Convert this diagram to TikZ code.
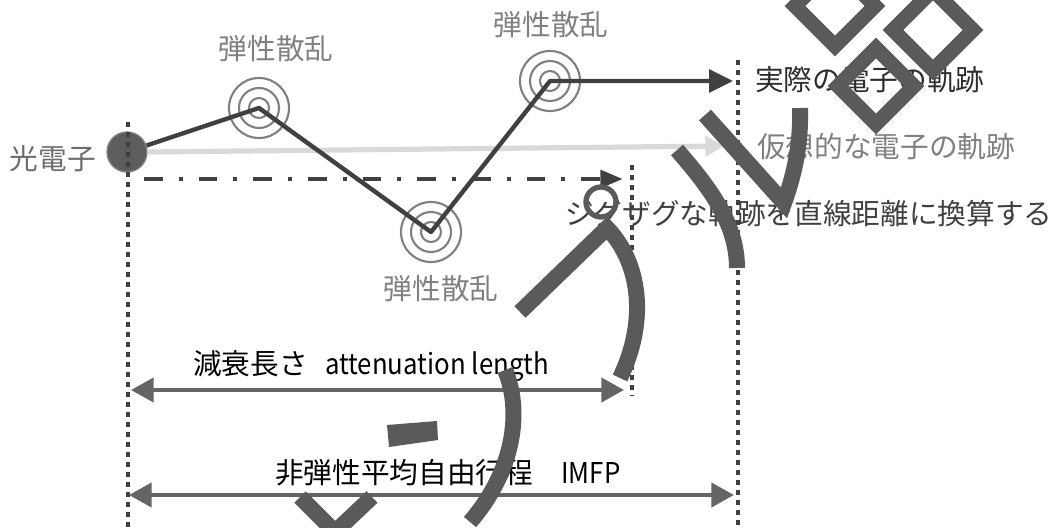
\documentclass[tikz,border=0pt]{standalone}
\usepackage{fontspec}
\setmainfont{Noto Sans CJK JP}
\usetikzlibrary{arrows.meta}
\definecolor{dk}{HTML}{404040}
\definecolor{md}{HTML}{656565}
\definecolor{lt}{HTML}{D9D9D9}
\definecolor{gy}{HTML}{808080}
\definecolor{wm}{HTML}{5A5A5A}
\tikzset{
  lbl/.style={inner sep=0pt, font=\fontsize{21.5}{25}\selectfont},
  dotline/.style={dk, line width=3.4pt, dash pattern=on 3.4pt off 4.1pt},
  traj/.style={dk, line width=3.3pt, line join=round},
  dimarrow/.style={md, line width=3.3pt, {Triangle[length=17pt,width=18pt]}-{Triangle[length=17pt,width=18pt]}},
  ring/.style={gy, line width=1.6pt},
  wmark/.style={wm, line width=12pt},
}
\begin{document}
\begin{tikzpicture}[x=0.75pt,y=-0.75pt]
\useasboundingbox (0,0) rectangle (1054,528);
% photoelectron
\node[circle, fill=dk!85, draw=gy, line width=1pt, minimum size=30pt, inner sep=0pt] (e) at (127,152) {};
\node[lbl, text=gy!85!black] (eLbl) at (53,159) {光電子};
% scattering points
\coordinate (p1) at (259,108);
\coordinate (p2) at (431,232);
\coordinate (p3) at (550,81);
\foreach \p in {p1,p2,p3}{
  \draw[ring] (\p) circle (10);
  \draw[ring] (\p) circle (20);
  \draw[ring] (\p) circle (30);
}
\node[lbl, text=gy] (s1) at (276,49) {弾性散乱};
\node[lbl, text=gy] (s3) at (551,25) {弾性散乱};
\node[lbl, text=gy] (s2) at (441,289) {弾性散乱};
% dotted verticals
\coordinate (lt0) at (128,122); \coordinate (lt1) at (128,530);
\coordinate (md0) at (632,165); \coordinate (md1) at (632,396);
\coordinate (rt0) at (738,60);  \coordinate (rt1) at (738,530);
\draw[dotline] (lt0) -- (lt1);
\draw[dotline] (md0) -- (md1);
\draw[dotline] (rt0) -- (rt1);
% virtual trajectory
\coordinate (vend) at (724,146);
\draw[lt, line width=3.9pt, -{Triangle[length=14pt,width=15pt]}] (e.east) -- (vend);
% real trajectory
\coordinate (tend) at (733,81);
\draw[traj, -{Triangle[length=18pt,width=17pt]}] (e) -- (p1) -- (p2) -- (p3) -- (tend);
% dash-dot
\coordinate (ds) at (144,179);
\coordinate (de) at (623,179);
\draw[dk, line width=3.7pt, dash pattern=on 14pt off 12pt on 3pt off 12pt, -{Triangle[length=17pt,width=13pt]}] (ds) -- (de);
% labels right
\node[lbl, text=dk!70!black, anchor=west] (real) at (755,80) {実際の電子の軌跡};
\node[lbl, text=gy, anchor=west] (virt) at (757,147) {仮想的な電子の軌跡};
\node[lbl, text=dk, anchor=west] (zig) at (565,214) {ジグザグな軌跡を直線距離に換算する};
% dimension arrows
\coordinate (a0) at (131,390); \coordinate (a1) at (624,390);
\coordinate (b0) at (129,495); \coordinate (b1) at (734,495);
\draw[dimarrow] (a0) -- (a1);
\draw[dimarrow] (b0) -- (b1);
\node[lbl, text=black, anchor=west] (att) at (193,366) {減衰長さ\hspace{13pt}\scalebox{0.9}[1]{attenuation length}};
\node[lbl, text=black, anchor=west] (imfp) at (275,473) {非弾性平均自由行程\hspace{21pt}\scalebox{0.9}[1]{IMFP}};
% watermark
\draw[wmark, line join=miter] (705,115) -- (784,203) .. controls (796,170) and (801,140) .. (800,108);
\draw[wmark] (677,150) .. controls (712,190) and (737,225) .. (737,268);
\draw[wm, line width=4pt] (601,202) circle (15);
\draw[wmark, line join=miter] (520,312) -- (607,228) .. controls (640,262) and (648,320) .. (620,378);
\draw[wmark] (505,370) .. controls (522,410) and (515,470) .. (470,522);
\fill[wm] (387,425) -- (437,421) -- (438,440) -- (389,447) -- cycle;
\draw[wmark, line join=miter] (300,497) -- (335,532) -- (372,497);
\foreach \cx/\cy/\h in {835/6/40, 933/30/40, 876/86/38}{
  \draw[wm, line width=11pt] (\cx-\h,\cy) -- (\cx,\cy+\h) -- (\cx+\h,\cy) -- (\cx,\cy-\h) -- cycle;
}
\end{tikzpicture}
\end{document}
